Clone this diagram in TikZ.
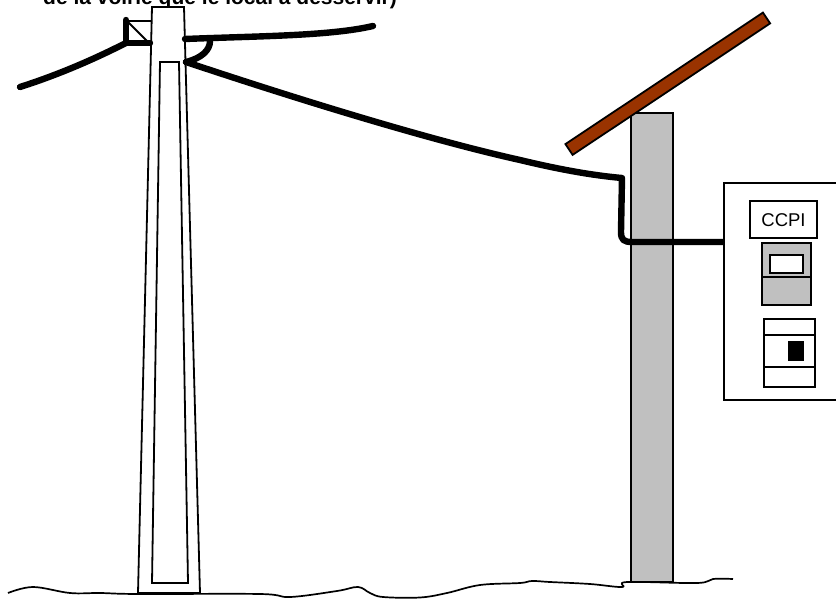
\documentclass[tikz,border=0pt]{standalone}
\usepackage{fontspec}
\setmainfont{Liberation Sans}
\usepackage{tikz}

\begin{document}
\begin{tikzpicture}[x=1pt,y=1pt,yscale=-1,xscale=1,
    wire/.style={line width=6.4, line cap=round, line join=round},
    outline/.style={line width=1.8},
    unit/.style={line width=1.8, fill={rgb, 255:red, 192; green, 192; blue, 192 }}]
\useasboundingbox (0,0) rectangle (836,599);
\clip (0,0) rectangle (836,599);

% Text Node
\node (caption) [anchor=base west, inner sep=0, font=\fontsize{21}{24}\selectfont\bfseries] at (43,5) {de la voirie que le local à desservir)};

%Shape: Trapezium (street pole)
\draw [outline, fill=white] (152,7) -- (184,7) -- (200,593) -- (138,593) -- cycle ;
\draw [outline] (160,62) -- (179,62) -- (188,583) -- (152,583) -- cycle ;

%Straight Lines (cross arm)
\draw [outline] (126,21) -- (152,21) ;
\draw [outline] (128,22) -- (149,43) ;
\draw [wire] (126,20) -- (126,43) -- (150,43) ;

%Curve Lines (line to the left)
\draw [wire] (126,43) .. controls (108,52) and (70,71) .. (20,87) ;

%Curve Lines (line to the right)
\draw [wire] (185,39) .. controls (260,36) and (330,36) .. (373,26) ;

%Curve Lines (clamp)
\draw [wire] (186,62) .. controls (202,58) and (210,50) .. (210,41) ;

%Shape: Rectangle (wall)
\draw [unit] (631,113) rectangle (673,582) ;

%Shape: Rectangle (roof beam)
\draw [line width=1.8, fill={rgb, 255:red, 153; green, 51; blue, 0 }] (565.4,144.1) -- (762.9,12.6) -- (770.1,23.4) -- (572.6,154.9) -- cycle ;

%Curve Lines (service drop)
\draw [wire] (186,62) .. controls (300,100) and (430,140) .. (520,160) .. controls (570,172) and (600,176) .. (622,178)
  -- (621,232) .. controls (621,240) and (624,242) .. (632,242) -- (727,242) ;

%Shape: Rectangle (panel)
\draw [outline, fill=white] (724,183) rectangle (845,400) ;

%Shape: Rectangle (label box)
\draw [outline] (750,201) rectangle (817,238) ;
% Text Node
\node (ccpi) [font=\fontsize{18.5}{20}\selectfont] at (783.5,220) {CCPI};

%Shape: Rectangle (meter)
\draw [unit] (762,243) rectangle (811,305) ;
\draw [outline] (762,277) -- (811,277) ;
\draw [outline, fill=white] (770,255) rectangle (803,273) ;

%Shape: Rectangle (breaker)
\draw [outline] (764,319) rectangle (815,387) ;
\draw [outline] (764,335) -- (815,335) ;
\draw [outline] (764,367) -- (815,367) ;
\draw [fill={rgb, 255:red, 0; green, 0; blue, 0 }] (788,341) rectangle (803,360) ;

%Curve Lines (ground)
\draw [line width=1.7, line join=round] plot [smooth, tension=0.6] coordinates {(8,593) (33,587) (70,593) (100,593) (138,594) (260,594) (290,597) (337,591) (358,587) (370,593) (383,597) (420,597.5) (447,593) (480,585) (520,583) (532,581) (550,582) (590,584) (622,587) (627,582) (697,583) (713,579) (733,579)} ;

\end{tikzpicture}
\end{document}
